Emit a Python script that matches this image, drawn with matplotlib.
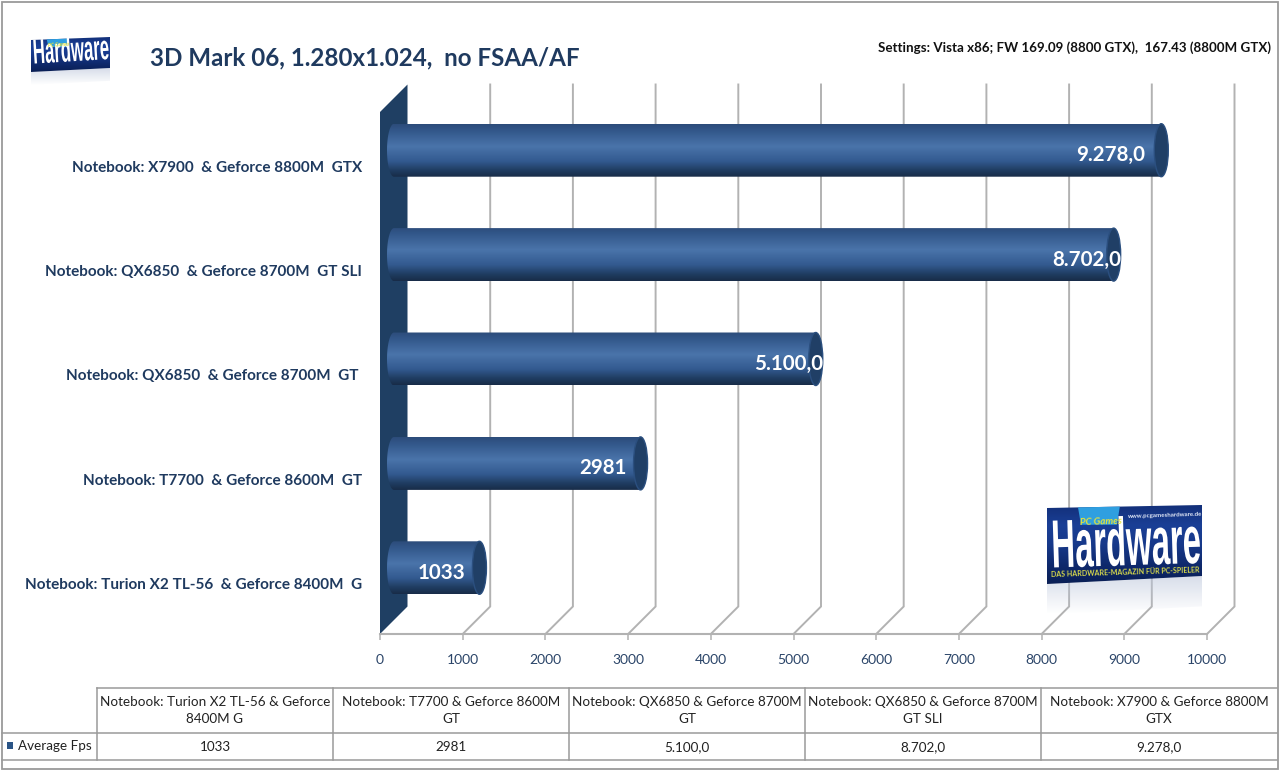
import numpy as np
import matplotlib
matplotlib.use("Agg")
import matplotlib.pyplot as plt
from matplotlib.colors import LinearSegmentedColormap
from matplotlib.patches import Ellipse, PathPatch, Polygon, Rectangle
from matplotlib.path import Path
from matplotlib.patheffects import AbstractPathEffect
from matplotlib.transforms import Affine2D, ScaledTranslation

plt.rcParams["font.family"] = ["Lato", "DejaVu Sans"]

# Chart values, in table order (the first one is the lowest bar)
table_names = [
    "Notebook: Turion X2 TL-56 & Geforce\n8400M G",
    "Notebook: T7700 & Geforce 8600M\nGT",
    "Notebook: QX6850 & Geforce 8700M\nGT",
    "Notebook: QX6850 & Geforce 8700M\nGT SLI",
    "Notebook: X7900 & Geforce 8800M\nGTX",
]
axis_names = [
    "Notebook: Turion X2 TL-56  & Geforce 8400M  G",
    "Notebook: T7700  & Geforce 8600M  GT",
    "Notebook: QX6850  & Geforce 8700M  GT ",
    "Notebook: QX6850  & Geforce 8700M  GT SLI",
    "Notebook: X7900  & Geforce 8800M  GTX",
]
scores = [1033, 2981, 5100.0, 8702.0, 9278.0]
score_labels = ["1033", "2981", "5.100,0", "8.702,0", "9.278,0"]
x_ticks = [0, 1000, 2000, 3000, 4000, 5000, 6000, 7000, 8000, 9000, 10000]
series_name = "Average Fps"
title = "3D Mark 06, 1.280x1.024,  no FSAA/AF"
settings = "Settings: Vista x86; FW 169.09 (8800 GTX),  167.43 (8800M GTX)"

W, H = 1280, 771
NAVY = "#1f3a5f"
WALL = "#1f3f63"
GRID = "#b2b2b2"
RULE = "#9a9a9a"

fig = plt.figure(figsize=(W / 100, H / 100), dpi=100, facecolor="white")

# Plot area: the front plane of the 3D box
X0, X1, Y0, Y1 = 380, 1207, 112, 634
ax = fig.add_axes([X0 / W, 1 - Y1 / H, (X1 - X0) / W, (Y1 - Y0) / H])
ax.set_xlim(0, 10000)
ax.set_ylim(-0.5, 4.5)
ax.patch.set_visible(False)
px_x = 10000 / (X1 - X0)
px_y = 5 / (Y1 - Y0)
depth_x, depth_y = 27.5 * px_x, 27.5 * px_y

for side in ("top", "left", "right"):
    ax.spines[side].set_visible(False)
ax.spines["bottom"].set_color(GRID)
ax.spines["bottom"].set_linewidth(1.5)
ax.set_xticks(x_ticks, [str(t) for t in x_ticks], color="#2a4468", fontsize=10)
ax.tick_params(axis="x", length=4.5, width=1.1, color=GRID, pad=10)
ax.set_yticks(range(len(axis_names)), axis_names, color=NAVY, fontsize=11,
              fontweight="bold")
ax.tick_params(axis="y", length=0, pad=13)
for tick in ax.get_yticklabels():
    tick.set_transform(tick.get_transform() + ScaledTranslation(0, -2 / 100, fig.dpi_scale_trans))

# Back wall gridlines and the floor lines running to them
for t in x_ticks[1:]:
    ax.plot([t, t + depth_x, t + depth_x], [-0.5, -0.5 + depth_y, 4.5 + depth_y],
            color=GRID, lw=1.4, clip_on=False, zorder=1, solid_joinstyle="miter")

# Dark side wall at the zero line
ax.add_patch(Polygon([(0, -0.5), (depth_x, -0.5 + depth_y), (depth_x, 4.5 + depth_y), (0, 4.5)],
                     closed=True, fc=WALL, ec="none", clip_on=False, zorder=2))

# Cylinders
bar_cmap = LinearSegmentedColormap.from_list("cylinder", [
    (0.0, "#2c4c7a"), (0.12, "#32578a"), (0.42, "#4a74aa"), (0.70, "#335a90"),
    (0.88, "#1f3c60"), (1.0, "#182c48"),
])
bar_h = 53 * px_y
cap_rx = 7 * px_x
mid_x, mid_y = 14 * px_x, 14 * px_y
ramp = np.linspace(0, 1, 128).reshape(-1, 1)

for i, (v, lab) in enumerate(zip(scores, score_labels)):
    y = i + mid_y
    x_end = v + mid_x
    t_l = np.linspace(np.pi / 2, 3 * np.pi / 2, 40)
    t_r = np.linspace(-np.pi / 2, np.pi / 2, 40)
    xs = np.r_[mid_x + cap_rx * np.cos(t_l), x_end + cap_rx * np.cos(t_r)]
    ys = np.r_[y + bar_h / 2 * np.sin(t_l), y + bar_h / 2 * np.sin(t_r)]
    body = PathPatch(Path(np.c_[xs, ys]), transform=ax.transData)
    im = ax.imshow(ramp, cmap=bar_cmap, aspect="auto", origin="upper", zorder=3,
                   extent=(mid_x - cap_rx, x_end + cap_rx, y - bar_h / 2, y + bar_h / 2))
    im.set_clip_box(None)
    im.set_clip_path(body)
    ax.add_patch(Ellipse((x_end, y), 2 * cap_rx, bar_h, fc="#203f66", ec="#2b4f7f",
                         lw=1.0, zorder=4, clip_on=False))

# Value labels sit a little off the bar end, by a per-bar amount in pixels
label_nudge = [0, 0, 21, 22, -2]
for i, (v, lab, n) in enumerate(zip(scores, score_labels, label_nudge)):
    ax.text(v + n * px_x, i + 9 * px_y, lab, ha="right", va="center", color="white", fontsize=14.8,
            fontweight="bold", zorder=5, clip_on=False)

ax.set_xlim(0, 10000)
ax.set_ylim(-0.5, 4.5)

# Page layer in pixel coordinates: frame, headings, table and logos
pg = fig.add_axes([0, 0, 1, 1], zorder=5)
pg.set_xlim(0, W)
pg.set_ylim(H, 0)
pg.axis("off")

pg.add_patch(Rectangle((1.5, 2), 1276, 767, fc="none", ec=RULE, lw=1.3))
pg.text(150, 58, title, fontsize=17.35, fontweight="bold", color=NAVY, va="center", ha="left")
pg.text(1271, 48, settings, fontsize=9.6, fontweight="bold", color="#111111", va="center", ha="right")

# Data table under the chart
cols = [97, 333, 569, 805, 1041, 1277]
R0, R1, R2 = 688, 733, 760
pg.plot([97, 1277], [R0, R0], color=RULE, lw=1.1)
for yy in (R1, R2):
    pg.plot([2, 1277], [yy, yy], color=RULE, lw=1.1)
for xx in cols[:-1]:
    pg.plot([xx, xx], [R0, R2], color=RULE, lw=1.1)
for j, (nm, lab) in enumerate(zip(table_names, score_labels)):
    cx = (cols[j] + cols[j + 1]) / 2
    pg.text(cx, (R0 + R1) / 2, nm, ha="center", va="center", fontsize=9.7, color="#222222",
            linespacing=1.42)
    pg.text(cx, (R1 + R2) / 2 + 0.5, lab, ha="center", va="center", fontsize=9.7, color="#222222")
pg.add_patch(Rectangle((7, 742), 6, 7, fc="#2a5486", ec="none"))
pg.text(18, 746, series_name, ha="left", va="center", fontsize=9.7, color="#222222")


class Stretch(AbstractPathEffect):
    """Scales glyph outlines about the text origin before they are placed."""

    def __init__(self, sx=1.0, sy=1.0):
        super().__init__()
        self.sx, self.sy = sx, sy

    def draw_path(self, renderer, gc, tpath, affine, rgbFace=None):
        renderer.draw_path(gc, tpath, Affine2D().scale(self.sx, self.sy) + affine, rgbFace)


def gradient_quad(quad, colors, zorder, rgba=None):
    """Fill a four-cornered shape with a top-to-bottom colour ramp."""
    quad = np.asarray(quad, float)
    clip = Polygon(quad, closed=True, transform=pg.transData)
    data = rgba if rgba is not None else np.linspace(0, 1, 64).reshape(-1, 1)
    cmap = None if rgba is not None else LinearSegmentedColormap.from_list("logo", colors)
    im = pg.imshow(data, cmap=cmap, aspect="auto", origin="upper", zorder=zorder,
                   extent=(quad[:, 0].min(), quad[:, 0].max(), quad[:, 1].max(), quad[:, 1].min()))
    im.set_clip_box(None)
    im.set_clip_path(clip)


def logo(left, right, tl, tr, bl, br, detail=True):
    """Magazine badge with its faded reflection; y values are the corner heights."""
    w = right - left
    hgt = bl - tl
    fade = np.zeros((64, 1, 4))
    fade[:, 0, :3] = (0.74, 0.78, 0.86)
    fade[:, 0, 3] = np.linspace(0.6, 0, 64)
    gradient_quad([(left, bl), (right, br), (right, br + 0.4 * hgt), (left, bl + 0.4 * hgt)],
                  None, 6, rgba=fade)
    gradient_quad([(left, tl), (right, tr), (right, br), (left, bl)],
                  ["#13307a", "#1a3f96", "#17398a", "#0f2a6e", "#0a1f55"], 7)
    s = w / 155
    rise = (tl - tr) / w
    angle = np.degrees(np.arctan(rise * 1.6))
    # Light blue tab behind the small top lettering
    tab_a, tab_b = left + 0.2 * w, left + 0.47 * w
    pg.add_patch(Polygon([(tab_a, tl - rise * (tab_a - left)), (tab_b, tl - rise * (tab_b - left)),
                          (tab_b - 3 * s, tl + 0.22 * hgt), (tab_a + 3 * s, tl + 0.22 * hgt)],
                         closed=True, fc="#2f9fe0", ec="none", zorder=8))
    pg.text(left + 5 * s, bl - 16.5 * s, "Hardware", color="white", fontsize=34.5 * s,
            fontweight="bold", family=["Liberation Sans Narrow", "Liberation Sans"], ha="left",
            va="baseline", rotation=angle, rotation_mode="anchor", zorder=9,
            path_effects=[Stretch(0.685, 1.42)])
    pg.text(left + 0.21 * w, tl + 0.225 * hgt, "PC Games", color="#e4e23c", fontsize=7 * s,
            fontweight="bold", ha="left", va="baseline", rotation=angle, rotation_mode="anchor",
            zorder=9, style="italic")
    if detail:
        pg.text(left + 0.52 * w, tl + 0.115 * hgt, "www.pcgameshardware.de", color="#dfe6f5",
                fontsize=4.4, fontweight="bold", ha="left", va="center", rotation=angle,
                rotation_mode="anchor", zorder=9)
        pg.text(left + 4 * s, bl - 7 * s, "DAS HARDWARE-MAGAZIN FÜR PC-SPIELER", color="#d7d94a",
                fontsize=5.05, fontweight="bold", ha="left", va="baseline", rotation=angle,
                rotation_mode="anchor", zorder=9)


logo(1047, 1202, 508, 505, 584, 576, detail=True)
logo(31, 110, 40, 37, 72, 68, detail=False)

pg.set_xlim(0, W)
pg.set_ylim(H, 0)

fig.savefig("out.png", dpi=100, facecolor="white")
